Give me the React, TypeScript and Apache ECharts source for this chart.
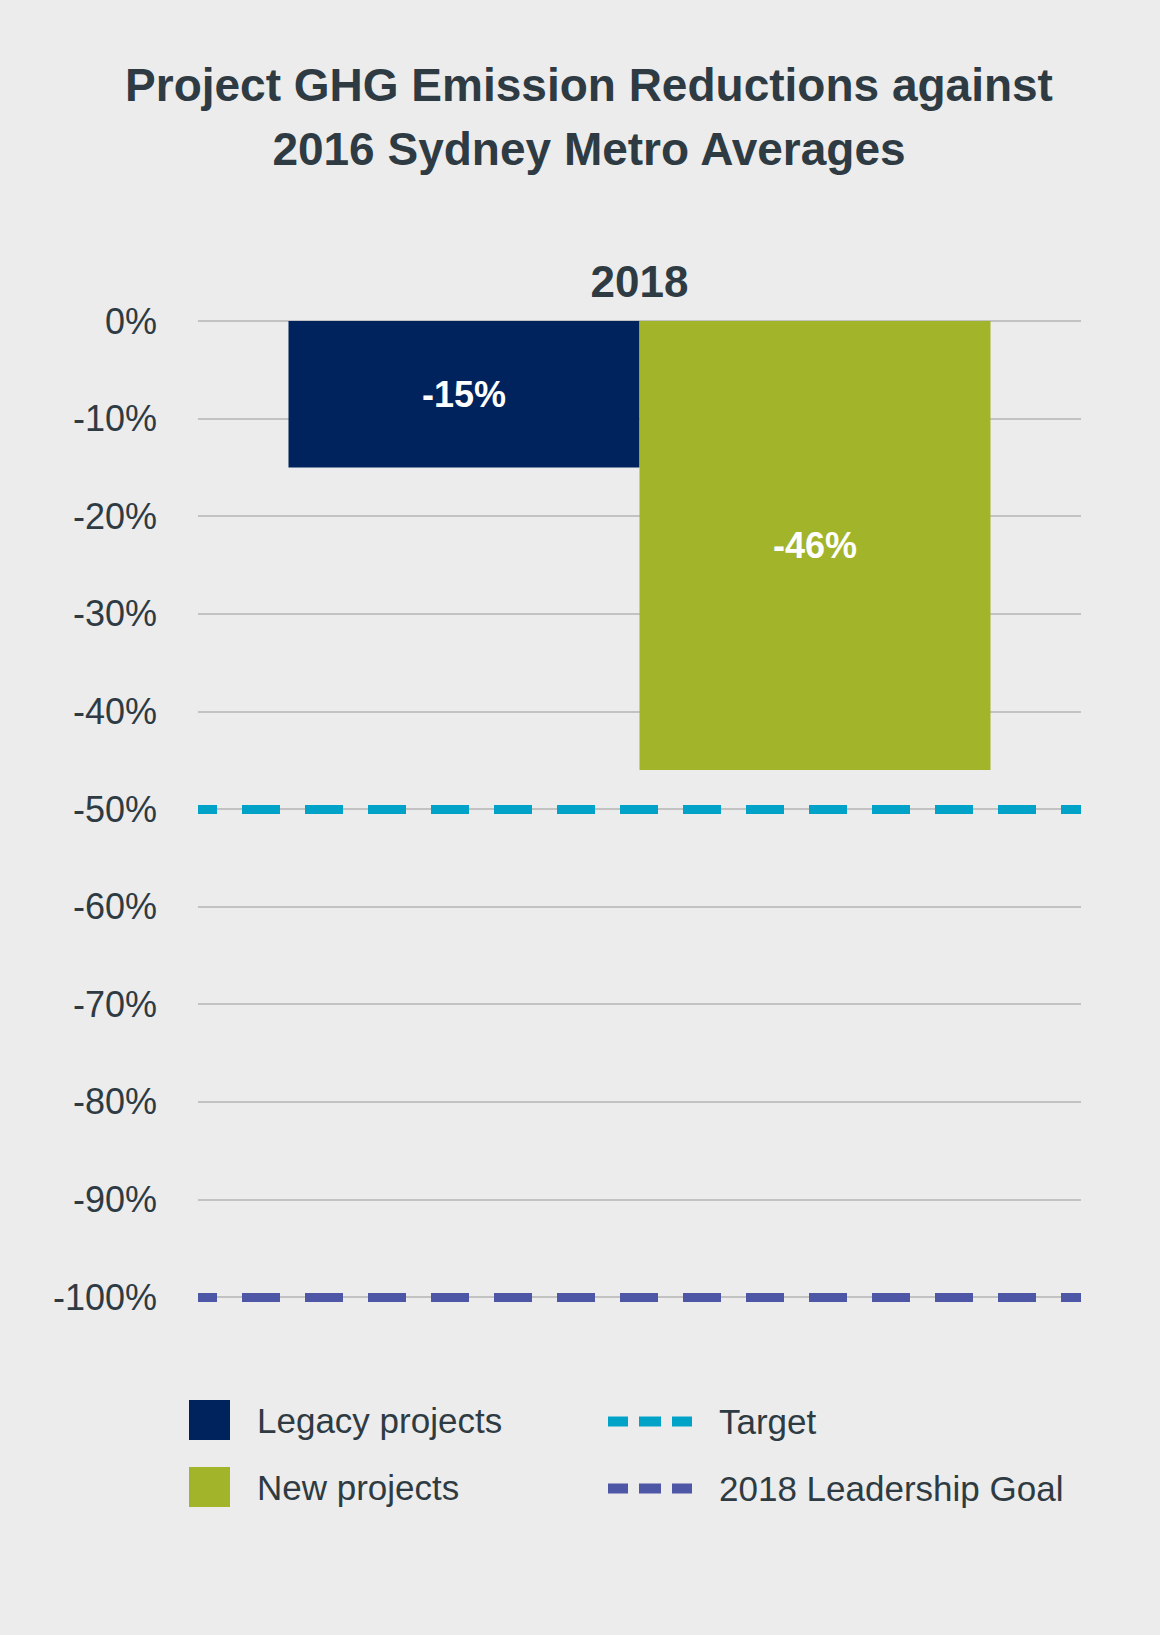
import React, { useEffect, useRef } from "react";
import * as echarts from "echarts";

const categories = ["2018"];
const legacyValues = [-15];
const newValues = [-46];
const targetValue = -50;
const leadershipGoal = -100;
const yMin = -100;
const yMax = 0;
const yStep = 10;

const TEXT = "#2f3b43";
const BG = "#ececec";
const NAVY = "#00235e";
const GREEN = "#a2b42a";
const CYAN = "#00a3c7";
const PURPLE = "#4e57a6";
const FONT = "'Liberation Sans', Arial, sans-serif";

const dashIcon = "path://M0 0h20v10H0z M31 0h22v10H31z M64 0h20v10H64z";

export default function App() {
  const ref = useRef<HTMLDivElement>(null);
  useEffect(() => {
    if (!ref.current) return;
    const chart = echarts.init(ref.current, undefined, { renderer: "svg" });
    const legendBase = {
      orient: "vertical",
      itemGap: 0,
      selectedMode: false,
      textStyle: { color: TEXT, fontSize: 35, fontFamily: FONT, padding: [0, 0, 0, 22] },
    };
    chart.setOption({
      animation: false,
      backgroundColor: BG,
      title: {
        text: "Project GHG Emission Reductions against\n2016 Sydney Metro Averages",
        left: 584,
        textAlign: "center",
        top: 48,
        textStyle: { color: TEXT, fontSize: 46, fontWeight: "bold", lineHeight: 64, fontFamily: FONT },
      },
      grid: { left: 198, right: 79, top: 321, bottom: 338 },
      legend: [
        { ...legendBase, data: ["Legacy projects"], left: 184, top: 1395, itemWidth: 41, itemHeight: 40, icon: "rect" },
        { ...legendBase, data: ["New projects"], left: 184, top: 1462, itemWidth: 41, itemHeight: 40, icon: "rect" },
        { ...legendBase, data: ["Target"], left: 603, top: 1399, itemWidth: 84, itemHeight: 10, icon: dashIcon, itemStyle: { borderWidth: 0 } },
        { ...legendBase, data: ["2018 Leadership Goal"], left: 603, top: 1466, itemWidth: 84, itemHeight: 10, icon: dashIcon, itemStyle: { borderWidth: 0 } },
      ],
      xAxis: {
        type: "category",
        data: categories,
        position: "top",
        axisLine: { show: false },
        axisTick: { show: false },
        axisLabel: { color: TEXT, fontSize: 44, fontWeight: "bold", fontFamily: FONT, margin: 18 },
      },
      yAxis: {
        type: "value",
        min: yMin,
        max: yMax,
        interval: yStep,
        axisLine: { show: false },
        axisTick: { show: false },
        splitLine: { lineStyle: { color: "#c2c2c2", width: 2 } },
        axisLabel: {
          color: TEXT,
          fontSize: 36,
          fontFamily: FONT,
          margin: 41,
          formatter: (v: number) => `${v}%`,
        },
      },
      series: [
        {
          name: "Legacy projects",
          type: "bar",
          data: legacyValues,
          barWidth: 351,
          barGap: "0%",
          itemStyle: { color: NAVY },
          label: { show: true, position: "inside", formatter: "{c}%", color: "#ffffff", fontSize: 36, fontWeight: "bold", fontFamily: FONT },
        },
        {
          name: "New projects",
          type: "bar",
          data: newValues,
          barWidth: 351,
          barGap: "0%",
          itemStyle: { color: GREEN },
          label: { show: true, position: "inside", formatter: "{c}%", color: "#ffffff", fontSize: 36, fontWeight: "bold", fontFamily: FONT },
        },
        {
          name: "Target",
          type: "line",
          data: [],
          itemStyle: { color: CYAN },
          lineStyle: { color: CYAN },
          markLine: {
            silent: true,
            symbol: "none",
            label: { show: false },
            lineStyle: { color: CYAN, width: 9, type: [38, 25], dashOffset: 19, opacity: 1 },
            data: [{ yAxis: targetValue }],
          },
        },
        {
          name: "2018 Leadership Goal",
          type: "line",
          data: [],
          itemStyle: { color: PURPLE },
          lineStyle: { color: PURPLE },
          markLine: {
            silent: true,
            symbol: "none",
            label: { show: false },
            lineStyle: { color: PURPLE, width: 9, type: [38, 25], dashOffset: 19, opacity: 1 },
            data: [{ yAxis: leadershipGoal }],
          },
        },
      ],
    });
    return () => chart.dispose();
  }, []);
  return (
    <div
      ref={ref}
      style={{ position: "absolute", left: 0, top: 0, width: 1160, height: 1635 }}
    />
  );
}
